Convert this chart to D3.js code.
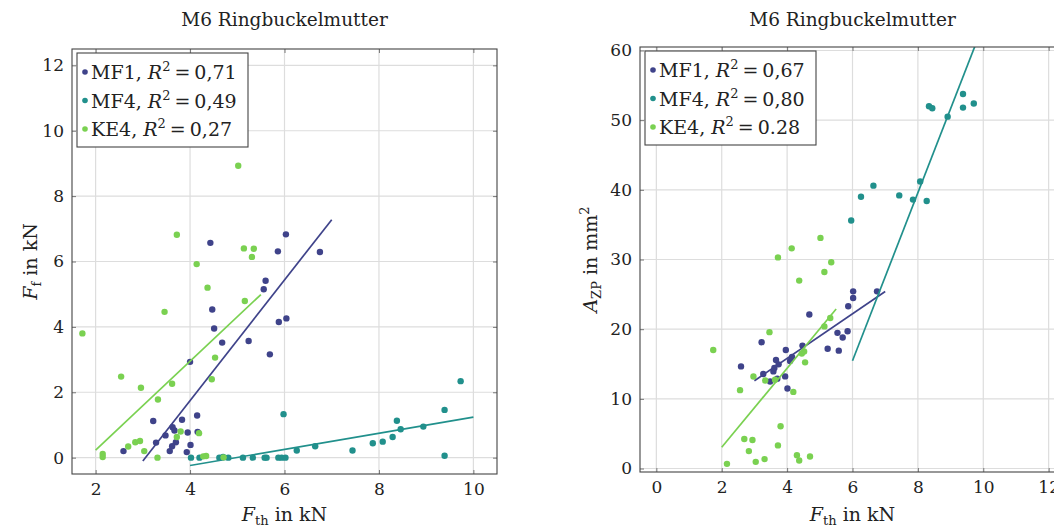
<!DOCTYPE html>
<html>
<head>
<meta charset="utf-8">
<script src="https://cdn.jsdelivr.net/npm/d3@7"></script>
<style>
  body { margin: 0; background: #fff; }
</style>
</head>
<body>
<svg id="chart" width="1054" height="527"></svg>
<script>
const serifFont = "DejaVu Serif";

// series names and colours (viridis-like)
const seriesNames = ["MF1", "MF4", "KE4"];
const seriesColors = ["#3f438a", "#21908c", "#7ad151"];

// left panel: F_f over F_th  ([F_th, F_f])
const ffMF1 = [[2.59,0.20],[3.22,1.12],[3.28,0.46],[3.48,0.68],[3.57,0.20],[3.62,0.35],[3.63,0.93],[3.67,0.83],[3.70,0.47],[3.83,1.16],[3.93,0.17],[3.95,0.77],[4.00,2.93],[4.01,0.39],[4.15,1.29],[4.16,0.79],[4.43,6.57],[4.47,4.53],[4.51,3.95],[4.68,3.52],[5.24,3.57],[5.56,5.15],[5.60,5.41],[5.69,3.16],[5.86,6.31],[5.88,4.15],[6.03,6.83],[6.04,4.26],[6.75,6.29]];
const ffMF4 = [[4.02,0],[4.20,0],[4.62,0],[4.70,0.02],[4.81,0],[5.12,0],[5.33,0],[5.58,0],[5.62,0],[5.87,0],[5.94,0],[5.98,1.33],[6.02,0],[6.26,0.22],[6.65,0.35],[7.44,0.22],[7.87,0.44],[8.08,0.49],[8.29,0.63],[8.38,1.13],[8.46,0.87],[8.94,0.95],[9.39,1.46],[9.39,0.06],[9.73,2.34]];
const ffKE4 = [[1.72,3.80],[2.15,0.11],[2.15,0.02],[2.54,2.48],[2.69,0.34],[2.84,0.47],[2.94,0.51],[2.96,2.14],[3.03,0.20],[3.31,0.0],[3.32,1.78],[3.46,4.46],[3.62,2.26],[3.72,6.82],[3.72,0.63],[3.80,0.80],[4.14,5.92],[4.19,0.75],[4.28,0.04],[4.34,0.05],[4.37,5.20],[4.46,2.40],[4.53,3.06],[4.71,0.01],[5.02,8.93],[5.14,6.40],[5.16,4.79],[5.31,6.14],[5.35,6.39]];
// regression lines: [intercept, slope, from, to]
const ffFits = [[-5.635, 1.845, 3, 7], [-1.227, 0.2467, 4, 10], [-2.49, 1.36, 2, 5.5]];
const ffR2 = ["0,71", "0,49", "0,27"];
const ffXTicks = [2, 4, 6, 8, 10];
const ffYTicks = [0, 2, 4, 6, 8, 10, 12];

// right panel: A_ZP over F_th  ([F_th, A_ZP])
const azMF1 = [[2.59,14.66],[3.22,18.13],[3.27,13.56],[3.48,12.5],[3.58,13.94],[3.61,14.42],[3.66,15.58],[3.70,12.88],[3.74,14.95],[3.94,13.22],[3.96,17.02],[4.01,11.49],[4.09,15.43],[4.15,16.0],[4.47,17.64],[4.68,22.1],[5.24,17.2],[5.54,19.47],[5.58,16.92],[5.70,18.8],[5.85,19.71],[5.87,23.3],[6.02,25.43],[6.02,24.47],[6.75,25.43]];
const azMF4 = [[5.96,35.6],[6.26,39.0],[6.64,40.6],[7.43,39.2],[7.85,38.6],[8.07,41.2],[8.27,38.4],[8.34,52.0],[8.44,51.7],[8.91,50.5],[9.38,53.75],[9.38,51.8],[9.71,52.4]];
const azKE4 = [[1.74,17.0],[2.16,0.67],[2.56,11.25],[2.69,4.23],[2.83,2.5],[2.94,4.09],[2.97,13.2],[3.04,0.96],[3.31,1.35],[3.33,12.64],[3.46,19.57],[3.63,12.74],[3.72,30.3],[3.72,3.32],[3.80,6.06],[4.14,31.6],[4.19,11.0],[4.30,1.92],[4.37,26.97],[4.37,1.15],[4.45,16.5],[4.52,16.8],[4.55,15.24],[4.70,1.73],[5.02,33.1],[5.14,28.2],[5.14,20.4],[5.32,21.6],[5.35,29.6]];
const azFits = [[3.0, 3.2, 3, 7], [-56.9, 12.06, 6, 10], [-8.29, 5.67, 2, 5.5]];
const azR2 = ["0,67", "0,80", "0.28"];
const azXTicks = [0, 2, 4, 6, 8, 10, 12];
const azYTicks = [0, 10, 20, 30, 40, 50, 60];

var svg = d3.select("#chart");

function panel(cfg) {
    var size = 425;
    var x = d3.scaleLinear().domain(cfg.xDomain).range([cfg.left, cfg.left + size]);
    var y = d3.scaleLinear().domain(cfg.yDomain).range([cfg.bottom, cfg.bottom - size]);
    var top = cfg.bottom - size;
    var g = svg.append("g");

    // grid
    g.selectAll("xgrid").data(cfg.xTicks).enter().append("line")
        .attr("x1", d => x(d)).attr("x2", d => x(d))
        .attr("y1", top).attr("y2", cfg.bottom)
        .attr("stroke", "#dddddd").attr("stroke-width", 1.2);
    g.selectAll("ygrid").data(cfg.yTicks).enter().append("line")
        .attr("x1", cfg.left).attr("x2", cfg.left + size)
        .attr("y1", d => y(d)).attr("y2", d => y(d))
        .attr("stroke", "#dddddd").attr("stroke-width", 1.2);

    // axes with inward ticks
    function styleAxis(a) {
        a.attr("font-size", null).attr("font-family", null);
        a.select(".domain").remove();
        a.selectAll(".tick line").attr("stroke", "#777");
        a.selectAll("text").attr("font-size", 17).attr("font-family", serifFont).attr("fill", "#222");
    }
    g.append("g").attr("transform", "translate(0," + cfg.bottom + ")")
        .call(d3.axisBottom(x).tickValues(cfg.xTicks).tickSizeInner(-4).tickSizeOuter(0).tickPadding(9))
        .call(styleAxis);
    g.append("g").attr("transform", "translate(" + cfg.left + ",0)")
        .call(d3.axisLeft(y).tickValues(cfg.yTicks).tickSizeInner(-4).tickSizeOuter(0).tickPadding(8))
        .call(styleAxis);
    g.append("g").attr("transform", "translate(0," + top + ")")
        .call(d3.axisTop(x).tickValues(cfg.xTicks).tickSizeInner(-4).tickSizeOuter(0).tickFormat(""))
        .call(styleAxis);
    g.append("g").attr("transform", "translate(" + (cfg.left + size) + ",0)")
        .call(d3.axisRight(y).tickValues(cfg.yTicks).tickSizeInner(-4).tickSizeOuter(0).tickFormat(""))
        .call(styleAxis);

    // clip for data
    var clipId = "clip" + cfg.left;
    svg.append("clipPath").attr("id", clipId).append("rect")
        .attr("x", cfg.left).attr("y", top).attr("width", size).attr("height", size);
    var plot = g.append("g").attr("clip-path", "url(#" + clipId + ")");

    cfg.series.forEach(function (pts, i) {
        plot.append("g").selectAll("circle").data(pts).enter().append("circle")
            .attr("cx", d => x(d[0])).attr("cy", d => y(d[1]))
            .attr("r", 3.2).attr("fill", seriesColors[i]);
        var f = cfg.fits[i];
        var line = d3.line().x(d => x(d)).y(d => y(f[0] + f[1] * d));
        plot.append("path").datum([f[2], f[3]])
            .attr("d", line)
            .attr("stroke", seriesColors[i]).attr("stroke-width", 1.7).attr("fill", "none");
    });

    // frame
    g.append("rect").attr("x", cfg.left).attr("y", top).attr("width", size).attr("height", size)
        .attr("fill", "none").attr("stroke", "#444").attr("stroke-width", 1.1);

    function label(sel, fs) {
        return sel.attr("font-family", serifFont).attr("font-size", fs).attr("fill", "#222");
    }

    // title
    label(g.append("text"), 18.5).attr("x", cfg.left + size / 2).attr("y", 26)
        .attr("text-anchor", "middle")
        .text("M6 Ringbuckelmutter");

    // x label
    var xl = label(g.append("text"), 19).attr("x", cfg.left + size / 2).attr("y", 521)
        .attr("text-anchor", "middle");
    xl.append("tspan").attr("font-style", "italic").text("F");
    xl.append("tspan").attr("dy", 4).attr("font-size", 13).text("th");
    xl.append("tspan").attr("dy", -4).text(" in kN");

    // y label
    var yl = label(g.append("text"), 19)
        .attr("transform", "translate(" + cfg.yLabelX + "," + (top + size / 2) + ") rotate(-90)")
        .attr("text-anchor", "middle");
    cfg.yLabel(yl);

    // legend
    var lg = g.append("g").attr("transform", "translate(" + (cfg.left + 5) + "," + (top + 4) + ")");
    lg.append("rect").attr("width", cfg.legendW).attr("height", 94)
        .attr("fill", "#fff").attr("stroke", "#444").attr("stroke-width", 1.1);
    seriesNames.forEach(function (name, i) {
        var cy = 19 + i * 28.5;
        lg.append("circle").attr("cx", 8).attr("cy", cy).attr("r", 2.8).attr("fill", seriesColors[i]);
        var t = label(lg.append("text"), 19).attr("x", 14).attr("y", cy + 7);
        t.append("tspan").text(name + ", ");
        t.append("tspan").attr("font-style", "italic").text("R");
        t.append("tspan").attr("dy", -8).attr("font-size", 13).text("2");
        t.append("tspan").attr("dy", 8).attr("dx", 4).text("=");
        t.append("tspan").attr("dx", 4).text(cfg.r2[i]);
    });
}

panel({
    left: 72, bottom: 474,
    xDomain: [1.5, 10.5], yDomain: [-0.5, 12.5],
    xTicks: ffXTicks, yTicks: ffYTicks,
    series: [ffMF1, ffMF4, ffKE4], fits: ffFits, r2: ffR2,
    legendW: 171, yLabelX: 37,
    yLabel: function (t) {
        t.append("tspan").attr("font-style", "italic").text("F");
        t.append("tspan").attr("dy", 4).attr("font-size", 13).text("f");
        t.append("tspan").attr("dy", -4).text(" in kN");
    }
});

panel({
    left: 640, bottom: 472,
    xDomain: [-0.5, 12.5], yDomain: [-0.5, 60.5],
    xTicks: azXTicks, yTicks: azYTicks,
    series: [azMF1, azMF4, azKE4], fits: azFits, r2: azR2,
    legendW: 171, yLabelX: 597,
    yLabel: function (t) {
        t.append("tspan").attr("font-style", "italic").text("A");
        t.append("tspan").attr("dy", 4).attr("font-size", 13).text("ZP");
        t.append("tspan").attr("dy", -4).text(" in mm");
        t.append("tspan").attr("dy", -8).attr("font-size", 13).text("2");
    }
});
</script>
</body>
</html>
